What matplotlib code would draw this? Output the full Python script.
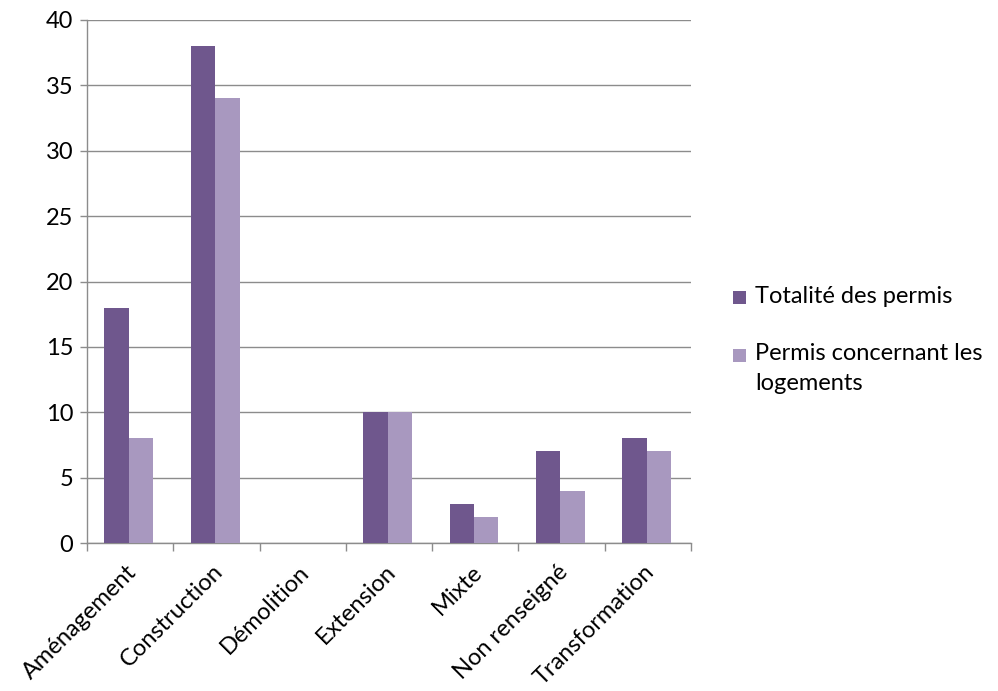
import matplotlib
matplotlib.use("Agg")
import matplotlib.pyplot as plt
from matplotlib.patches import Rectangle
import matplotlib.transforms as mtransforms
import numpy as np

categories = ["Aménagement", "Construction", "Démolition", "Extension", "Mixte", "Non renseigné", "Transformation"]
totalite = [18, 38, 0, 10, 3, 7, 8]
logements = [8, 34, 0, 10, 2, 4, 7]
series_names = ["Totalité des permis", "Permis concernant les\nlogements"]
yticks = [0, 5, 10, 15, 20, 25, 30, 35, 40]

plt.rcParams['font.family'] = ['Lato', 'DejaVu Sans']

W, H = 998, 691
fig = plt.figure(figsize=(W/100, H/100), dpi=100)
ax = fig.add_axes([87/W, 1-543/H, 604/W, 523/H])

x = np.arange(len(categories))
w = 0.283
c1 = "#6f578d"
c2 = "#a898bf"
ax.bar(x - w/2 - 0.015, totalite, w, color=c1, zorder=3)
ax.bar(x + w/2 - 0.015, logements, w, color=c2, zorder=3)

ax.set_xlim(-0.5, len(categories) - 0.5)
ax.set_ylim(0, 40)
ax.set_yticks(yticks)
ax.set_yticklabels([str(v) for v in yticks], fontsize=17)
ax.yaxis.grid(True, color="#8c8c8c", linewidth=1.0, zorder=0)
ax.set_axisbelow(True)

ax.set_xticks(np.arange(len(categories) + 1) - 0.5)
ax.set_xticklabels([])
ax.set_xticks(x, minor=True)
ax.set_xticklabels(categories, minor=True, rotation=45, ha='right', va='top',
                   rotation_mode='anchor', fontsize=17)
ax.tick_params(axis='x', which='minor', length=0, pad=13)
ax.tick_params(axis='x', which='major', length=6, color="#8c8c8c", width=1)
ax.tick_params(axis='y', length=5, color="#8c8c8c", width=1, pad=5)
offset = mtransforms.ScaledTranslation(-4/100, 0, fig.dpi_scale_trans)
for lab in ax.get_xticklabels(minor=True):
    lab.set_transform(lab.get_transform() + offset)

for s in ['top', 'right']:
    ax.spines[s].set_visible(False)
for s in ['left', 'bottom']:
    ax.spines[s].set_color("#8c8c8c")
    ax.spines[s].set_linewidth(1)

# legend drawn manually (handle aligned with the first line of each label)
leg_y = [298, 355]
for name, col, yy in zip(series_names, [c1, c2], leg_y):
    fig.add_artist(Rectangle(((733)/W, 1-(yy+6.5)/H), 13/W, 13/H,
                             transform=fig.transFigure, color=col, lw=0))
    fig.text(755/W, 1-(yy-12)/H, name, fontsize=17, ha='left', va='top',
             linespacing=1.5)

fig.savefig("out.png", dpi=100)
